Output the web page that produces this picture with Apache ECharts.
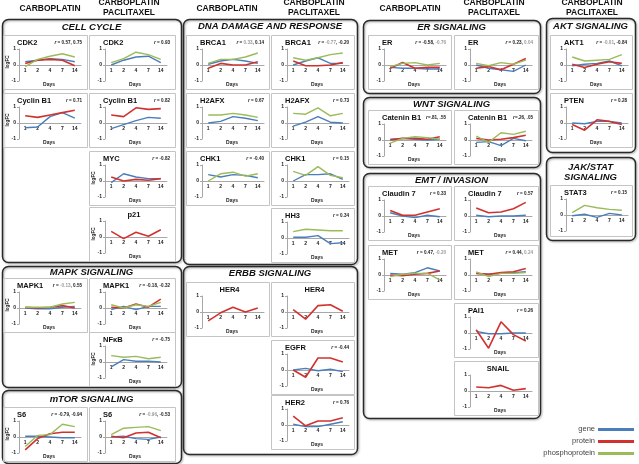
<!DOCTYPE html>
<html><head><meta charset="utf-8">
<script src="https://cdn.jsdelivr.net/npm/echarts@6/dist/echarts.min.js"></script>
<style>html,body{margin:0;padding:0;background:#fff}#c{width:639px;height:464px}</style>
</head><body><div id="c"></div><script>
// ---------- DATA ----------
const days = ['1','2','4','7','14'];
const yTicks = [-1, 0, 1];
// Cell cycle
const CDK2_C_gene = [0.2,0.3,0.4,0.35,0.2];
const CDK2_C_prot = [0.1,0.3,0.35,0.3,-0.05];
const CDK2_C_phos = [-0.1,0.35,0.55,0.7,0.5];
const CDK2_CP_gene = [0.0,0.3,0.5,0.55,0.15];
const CDK2_CP_phos = [0.15,0.4,0.8,0.65,0.35];
const CCNB1_C_gene = [-0.3,-0.25,0.4,0.65,0.3];
const CCNB1_C_prot = [0.45,0.35,0.5,0.65,0.8];
const CCNB1_CP_gene = [-0.35,-0.1,0.15,0.35,0.3];
const CCNB1_CP_prot = [0.5,0.4,0.95,0.85,0.9];
const MYC_CP_gene = [-0.1,0.45,0.25,0.15,0.15];
const MYC_CP_prot = [0.25,0.0,0.1,0.05,0.15];
const P21_CP_prot = [0.35,-0.1,0.3,0.05,0.45];
// MAPK
const MAPK1_C_gene = [0.0,-0.05,-0.05,0.05,0.1];
const MAPK1_C_prot = [0.05,0.0,0.05,0.15,0.0];
const MAPK1_C_phos = [0.05,0.05,0.05,0.25,0.35];
const MAPK1_CP_gene = [-0.1,0.1,-0.1,0.1,0.1];
const MAPK1_CP_prot = [0.05,0.0,0.25,0.05,0.55];
const MAPK1_CP_phos = [0.2,0.0,0.2,0.1,0.35];
const NFKB_CP_gene = [-0.3,0.15,0.05,0.05,0.0];
const NFKB_CP_phos = [0.4,0.3,0.35,0.2,0.3];
// mTOR
const S6_C_gene = [0.05,0.05,0.0,-0.05,-0.05];
const S6_C_prot = [-0.8,-0.1,0.2,0.3,0.3];
const S6_C_phos = [-0.6,0.1,0.15,0.8,0.65];
const S6_CP_gene = [0.0,0.05,-0.1,-0.15,0.0];
const S6_CP_prot = [0.05,-0.05,0.25,0.3,-0.05];
const S6_CP_phos = [0.15,0.55,0.6,0.65,0.4];
// DNA damage
const BRCA1_C_gene = [0.05,0.25,0.35,0.25,0.1];
const BRCA1_C_prot = [-0.2,0.1,0.0,0.0,0.2];
const BRCA1_C_phos = [0.1,0.35,0.35,0.5,0.75];
const BRCA1_CP_gene = [0.0,0.25,0.45,0.1,0.1];
const BRCA1_CP_prot = [0.25,-0.05,-0.05,0.0,0.15];
const BRCA1_CP_phos = [0.45,0.3,0.45,0.65,0.75];
const H2AFX_C_gene = [0.0,0.1,0.4,0.3,0.15];
const H2AFX_C_phos = [0.5,0.5,0.6,0.5,0.35];
const H2AFX_CP_gene = [-0.2,0.05,0.4,0.05,0.0];
const H2AFX_CP_phos = [0.6,0.55,0.95,0.45,0.6];
const CHK1_C_gene = [0.4,0.25,0.4,0.35,0.2];
const CHK1_C_phos = [0.0,0.45,0.55,0.3,0.45];
const CHK1_CP_gene = [0.0,0.4,0.4,0.45,0.1];
const CHK1_CP_phos = [0.6,0.35,0.9,0.35,0.2];
const HH3_CP_gene = [0.05,0.05,0.15,-0.35,-0.3];
const HH3_CP_phos = [0.4,0.55,0.5,0.45,0.45];
// ERBB
const HER4_C_prot = [-0.55,-0.05,0.3,0.0,0.25];
const HER4_CP_prot = [0.15,-0.45,0.4,0.45,0.05];
const EGFR_CP_gene = [0.0,0.1,-0.05,0.05,-0.1];
const EGFR_CP_prot = [0.0,-0.45,0.75,0.75,0.5];
const HER2_CP_gene = [0.05,-0.1,-0.1,0.05,0.2];
const HER2_CP_prot = [0.55,-0.05,0.25,0.25,0.45];
// ER
const ER_C_gene = [-0.15,-0.2,-0.2,-0.25,-0.25];
const ER_C_prot = [-0.2,0.15,-0.2,-0.15,-0.15];
const ER_C_phos = [-0.1,0.1,0.15,0.0,0.1];
const ER_CP_gene = [0.0,-0.2,-0.3,-0.4,0.0];
const ER_CP_prot = [-0.2,-0.1,-0.3,0.05,0.4];
const ER_CP_phos = [0.1,-0.05,0.15,0.05,0.3];
// WNT
const CTNNB1_C_gene = [0.05,0.1,0.05,0.0,0.05];
const CTNNB1_C_prot = [0.0,0.1,0.1,0.05,0.2];
const CTNNB1_C_phos = [-0.2,0.1,0.2,0.15,0.05];
const CTNNB1_CP_gene = [-0.15,-0.1,-0.35,0.1,-0.05];
const CTNNB1_CP_prot = [0.1,0.0,0.05,0.15,0.3];
const CTNNB1_CP_phos = [0.25,-0.15,0.45,0.35,0.55];
// EMT
const CLDN7_C_gene = [0.2,0.0,-0.1,0.05,-0.05];
const CLDN7_C_prot = [0.35,0.05,0.05,0.25,0.45];
const CLDN7_CP_gene = [0.05,-0.05,0.0,0.0,0.05];
const CLDN7_CP_prot = [0.5,0.2,0.25,0.45,0.85];
const MET_C_gene = [0.1,0.05,0.15,0.45,0.25];
const MET_C_prot = [0.0,-0.05,0.05,0.1,0.25];
const MET_C_phos = [-0.1,0.05,0.1,0.1,-0.3];
const MET_CP_gene = [0.1,0.05,0.1,0.15,0.2];
const MET_CP_prot = [0.1,0.05,0.15,0.2,0.4];
const MET_CP_phos = [0.2,-0.1,0.1,0.1,0.15];
const PAI1_CP_gene = [0.1,-0.05,-0.05,0.0,0.0];
const PAI1_CP_prot = [0.2,-0.95,0.7,-0.1,-0.5];
const SNAIL_CP_prot = [0.25,0.2,0.35,0.05,0.15];
// AKT / JAK-STAT
const AKT1_CP_gene = [-0.05,0.05,0.1,0.25,-0.05];
const AKT1_CP_prot = [0.05,-0.15,0.05,0.2,0.1];
const AKT1_CP_phos = [0.5,0.25,0.3,0.35,0.65];
const PTEN_CP_gene = [0.0,-0.05,0.1,0.1,0.0];
const PTEN_CP_prot = [-0.1,-0.45,0.2,0.1,-0.1];
const STAT3_CP_gene = [-0.05,0.05,-0.15,0.1,0.0];
const STAT3_CP_phos = [0.15,0.6,0.45,0.35,0.3];

// ---------- LAYOUT ----------
const F = '"Liberation Sans", Arial, sans-serif';
const COLORS = {gene:'#4a7ebb', prot:'#d0332f', phos:'#9bbb59'};
const panels = [
 {t:'CDK2', r:'{i|r} = 0.57, 0.75', x:3, y:35, w:84, lf:1, gene:CDK2_C_gene, prot:CDK2_C_prot, phos:CDK2_C_phos},
 {t:'CDK2', r:'{i|r} = 0.93', x:89, y:35, w:86, gene:CDK2_CP_gene, phos:CDK2_CP_phos},
 {t:'Cyclin B1', r:'{i|r} = 0.71', x:3, y:93, w:84, lf:1, gene:CCNB1_C_gene, prot:CCNB1_C_prot},
 {t:'Cyclin B1', r:'{i|r} = 0.82', x:89, y:93, w:86, gene:CCNB1_CP_gene, prot:CCNB1_CP_prot},
 {t:'MYC', r:'{i|r} = -0.82', x:89, y:151, w:86, lf:1, gene:MYC_CP_gene, prot:MYC_CP_prot},
 {t:'p21', c:1, x:89, y:207, w:86, lf:1, prot:P21_CP_prot},
 {t:'MAPK1', r:'{i|r} = {g|-0.13}, 0.55', x:3, y:278, w:84, lf:1, gene:MAPK1_C_gene, prot:MAPK1_C_prot, phos:MAPK1_C_phos},
 {t:'MAPK1', r:'{i|r} = -0.18, -0.32', x:89, y:278, w:86, gene:MAPK1_CP_gene, prot:MAPK1_CP_prot, phos:MAPK1_CP_phos},
 {t:'NFκB', r:'{i|r} = -0.75', x:89, y:332, w:86, lf:1, gene:NFKB_CP_gene, phos:NFKB_CP_phos},
 {t:'S6', r:'{i|r} = -0.79, -0.94', x:3, y:407, w:84, lf:1, gene:S6_C_gene, prot:S6_C_prot, phos:S6_C_phos},
 {t:'S6', r:'{i|r} = {g|-0.96}, -0.53', x:89, y:407, w:86, gene:S6_CP_gene, prot:S6_CP_prot, phos:S6_CP_phos},
 {t:'BRCA1', r:'{i|r} = {g|0.33}, 0.14', x:186, y:35, w:83, gene:BRCA1_C_gene, prot:BRCA1_C_prot, phos:BRCA1_C_phos},
 {t:'BRCA1', r:'{i|r} = {g|-0.77}, -0.20', x:271, y:35, w:83, gene:BRCA1_CP_gene, prot:BRCA1_CP_prot, phos:BRCA1_CP_phos},
 {t:'H2AFX', r:'{i|r} = 0.67', x:186, y:93, w:83, gene:H2AFX_C_gene, phos:H2AFX_C_phos},
 {t:'H2AFX', r:'{i|r} = 0.73', x:271, y:93, w:83, gene:H2AFX_CP_gene, phos:H2AFX_CP_phos},
 {t:'CHK1', r:'{i|r} = -0.40', x:186, y:151, w:83, gene:CHK1_C_gene, phos:CHK1_C_phos},
 {t:'CHK1', r:'{i|r} = 0.15', x:271, y:151, w:83, gene:CHK1_CP_gene, phos:CHK1_CP_phos},
 {t:'HH3', r:'{i|r} = 0.34', x:271, y:208, w:83, gene:HH3_CP_gene, phos:HH3_CP_phos},
 {t:'HER4', c:1, x:186, y:282, w:83, prot:HER4_C_prot},
 {t:'HER4', c:1, x:271, y:282, w:83, prot:HER4_CP_prot},
 {t:'EGFR', r:'{i|r} = -0.44', x:271, y:340, w:83, gene:EGFR_CP_gene, prot:EGFR_CP_prot},
 {t:'HER2', r:'{i|r} = 0.76', x:271, y:395, w:83, gene:HER2_CP_gene, prot:HER2_CP_prot},
 {t:'ER', r:'{i|r} = -0.58, {g|-0.76}', x:368, y:35, w:83, gene:ER_C_gene, prot:ER_C_prot, phos:ER_C_phos},
 {t:'ER', r:'{i|r} = 0.23, {g|0.04}', x:454, y:35, w:84, gene:ER_CP_gene, prot:ER_CP_prot, phos:ER_CP_phos},
 {t:'Catenin B1', r:'{i|r}=.81, .55', x:368, y:110, w:83, gene:CTNNB1_C_gene, prot:CTNNB1_C_prot, phos:CTNNB1_C_phos},
 {t:'Catenin B1', r:'{i|r}=.26, .05', x:454, y:110, w:84, gene:CTNNB1_CP_gene, prot:CTNNB1_CP_prot, phos:CTNNB1_CP_phos},
 {t:'Claudin 7', r:'{i|r} = 0.33', x:368, y:186, w:83, gene:CLDN7_C_gene, prot:CLDN7_C_prot},
 {t:'Claudin 7', r:'{i|r} = 0.57', x:454, y:186, w:84, gene:CLDN7_CP_gene, prot:CLDN7_CP_prot},
 {t:'MET', r:'{i|r} = 0.47, {g|-0.20}', x:368, y:245, w:83, gene:MET_C_gene, prot:MET_C_prot, phos:MET_C_phos},
 {t:'MET', r:'{i|r} = 0.44, {g|0.24}', x:454, y:245, w:84, gene:MET_CP_gene, prot:MET_CP_prot, phos:MET_CP_phos},
 {t:'PAI1', r:'{i|r} = 0.26', x:454, y:303, w:84, gene:PAI1_CP_gene, prot:PAI1_CP_prot},
 {t:'SNAIL', c:1, x:454, y:361, w:84, prot:SNAIL_CP_prot},
 {t:'AKT1', r:'{i|r} = {g|-0.01}, -0.84', x:550, y:35, w:82, gene:AKT1_CP_gene, prot:AKT1_CP_prot, phos:AKT1_CP_phos},
 {t:'PTEN', r:'{i|r} = 0.28', x:550, y:93, w:82, gene:PTEN_CP_gene, prot:PTEN_CP_prot},
 {t:'STAT3', r:'{i|r} = 0.15', x:550, y:185, w:82, h:51, nd:1, gene:STAT3_CP_gene, phos:STAT3_CP_phos}
];
const sections = [
 {t:['CELL CYCLE'], x:2, y:19, w:179, h:243, ty:27},
 {t:['MAPK SIGNALING'], x:2, y:266, w:179, h:121, ty:272},
 {t:['mTOR SIGNALING'], x:2, y:390, w:179, h:73, ty:399},
 {t:['DNA DAMAGE AND RESPONSE'], x:183, y:19, w:174, h:245, ty:26},
 {t:['ERBB SIGNALING'], x:183, y:266, w:174, h:188, ty:273},
 {t:['ER SIGNALING'], x:363, y:20, w:177, h:73, ty:27},
 {t:['WNT SIGNALING'], x:363, y:97, w:177, h:70, ty:104},
 {t:['EMT / INVASION'], x:363, y:173, w:177, h:245, ty:180},
 {t:['AKT SIGNALING'], x:546, y:18, w:89, h:134, ty:26},
 {t:['JAK/STAT','SIGNALING'], x:546, y:157, w:89, h:83, ty:167}
];
const headers = [
 {t:'CARBOPLATIN', x:50, y:9}, {t:'CARBOPLATIN\nPACLITAXEL', x:129, y:8},
 {t:'CARBOPLATIN', x:227, y:9}, {t:'CARBOPLATIN\nPACLITAXEL', x:314, y:8},
 {t:'CARBOPLATIN', x:410, y:9}, {t:'CARBOPLATIN\nPACLITAXEL', x:494, y:8},
 {t:'CARBOPLATIN\nPACLITAXEL', x:592, y:8}
];
const legendItems = [['gene','gene',429],['protein','prot',441],['phosphoprotein','phos',453]];

// ---------- BUILD ----------
const option = {animation:false, backgroundColor:'#fff', grid:[], xAxis:[], yAxis:[], series:[], graphic:[]};
const G = option.graphic;
sections.forEach(s=>{
  G.push({type:'rect', z:1, shape:{x:s.x+0.5, y:s.y+0.5, width:s.w, height:s.h, r:6},
    style:{fill:'rgba(0,0,0,0)', stroke:'#2a2a2a', lineWidth:1.5, shadowBlur:2, shadowColor:'rgba(0,0,0,0.35)', shadowOffsetX:1, shadowOffsetY:1}});
  s.t.forEach((line,k)=>{
    G.push({type:'text', z:5, x:s.x+s.w/2, y:s.ty+k*10, style:{text:line, font:'italic bold 9.5px '+F, fill:'#111', textAlign:'center', textVerticalAlign:'middle'}});
  });
});
headers.forEach(h=>{
  G.push({type:'text', z:5, x:h.x, y:h.y, style:{text:h.t, font:'bold 8.5px '+F, fill:'#111', textAlign:'center', textVerticalAlign:'middle', lineHeight:10}});
});
panels.forEach((p,i)=>{
  const h = p.h || 54;
  G.push({type:'rect', z:1, shape:{x:p.x+0.5, y:p.y+0.5, width:p.w, height:h}, style:{fill:'rgba(0,0,0,0)', stroke:'#c4c4c4', lineWidth:1}});
  G.push({type:'text', z:5, x:p.c ? p.x+p.w/2+2 : p.x+14, y:p.y+8, style:{text:p.t, font:'bold 7.5px '+F, fill:'#111', textAlign:p.c?'center':'left', textVerticalAlign:'middle'}});
  if (p.r) G.push({type:'text', z:5, x:p.x+p.w-5, y:p.y+8, style:{text:p.r, font:'bold 4.6px '+F, fill:'#222', textAlign:'right', textVerticalAlign:'middle',
      rich:{i:{font:'italic bold 5px '+F, fill:'#222', color:'#222'}, g:{font:'bold 4.6px '+F, fill:'#9a9a9a', color:'#9a9a9a'}}}});
  if (!p.nd) G.push({type:'text', z:5, x:p.x+46, y:p.y+50, style:{text:'Days', font:'bold 5px '+F, fill:'#222', textAlign:'center', textVerticalAlign:'middle'}});
  if (p.lf) G.push({type:'text', z:5, x:p.x+5, y:p.y+27, rotation:Math.PI/2, style:{text:'logFC', font:'bold 4.6px '+F, fill:'#222', textAlign:'center', textVerticalAlign:'middle'}});
  option.grid.push({left:p.x+16, top:p.y+14, width:62, height:32});
  option.xAxis.push({gridIndex:i, type:'category', data:days, boundaryGap:true, position:'bottom', offset:-16,
    axisLine:{show:true, onZero:false, lineStyle:{color:'#a8a8a8', width:1}}, axisTick:{show:false},
    axisLabel:{fontSize:5, fontWeight:'bold', color:'#222', margin:3, fontFamily:F}, splitLine:{show:false}});
  option.yAxis.push({gridIndex:i, type:'value', min:yTicks[0], max:yTicks[2], interval:1,
    axisLine:{show:true, lineStyle:{color:'#a8a8a8', width:1}}, axisTick:{show:true, length:2, lineStyle:{color:'#a8a8a8'}},
    axisLabel:{fontSize:5, fontWeight:'bold', color:'#222', margin:3, fontFamily:F}, splitLine:{show:false}});
  ['gene','prot','phos'].forEach(k=>{
    if (!p[k]) return;
    option.series.push({type:'line', xAxisIndex:i, yAxisIndex:i, data:p[k], symbol:'none', silent:true, z:3,
      color:COLORS[k], lineStyle:{color:COLORS[k], width:k==='prot'?1.6:1.4}});
  });
});
legendItems.forEach(([name,k,y])=>{
  G.push({type:'text', z:5, x:595, y:y, style:{text:name, font:'7.5px '+F, fill:'#444', textAlign:'right', textVerticalAlign:'middle'}});
  G.push({type:'line', z:5, shape:{x1:598, y1:y+0.5, x2:634, y2:y+0.5}, style:{stroke:COLORS[k], lineWidth:3}});
});
const chart = echarts.init(document.getElementById('c'), null, {renderer:'canvas'});
chart.setOption(option);
</script></body></html>
